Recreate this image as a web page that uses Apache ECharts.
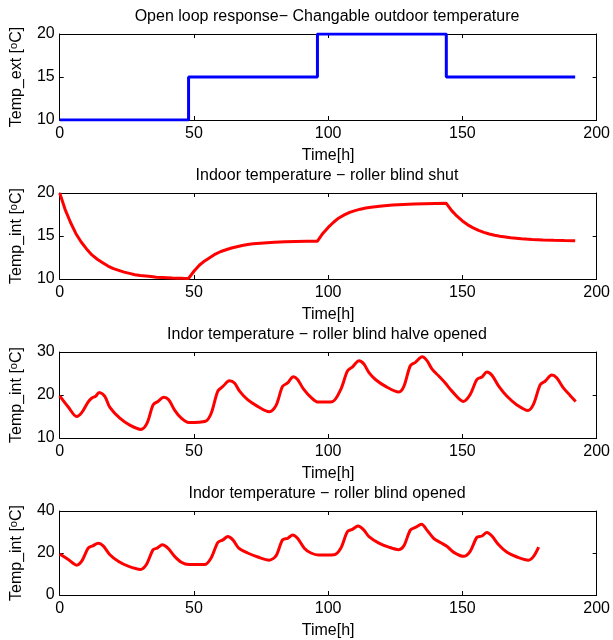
<!DOCTYPE html>
<html>
<head>
<meta charset="utf-8">
<script src="https://cdn.jsdelivr.net/npm/echarts@6/dist/echarts.min.js"></script>
<style>
  html, body { margin: 0; padding: 0; background: #fff; }
  #chart { width: 613px; height: 640px; }
</style>
</head>
<body>
<div id="chart"></div>
<script>
// outdoor temperature steps [h, degC]
const extTime = [0, 48, 96, 144, 192]
const extTemp = [10, 15, 20, 15, 15]

// roller blind shut
const shutTime = [0, 2, 4, 6, 8, 10, 12, 14, 16, 18, 20, 22, 24, 26, 28, 30, 32, 34, 36, 38, 40, 42, 44, 46, 48,
  50, 52, 54, 56, 58, 60, 62, 64, 66, 68, 70, 72, 76, 80, 84, 88, 92, 96,
  98, 100, 102, 104, 106, 108, 110, 112, 114, 116, 120, 124, 128, 132, 136, 140, 144,
  146, 148, 150, 152, 154, 156, 158, 160, 162, 164, 168, 172, 176, 180, 184, 188, 192]
const shutTemp = [20, 18.1, 16.6, 15.3, 14.3, 13.5, 12.8, 12.3, 11.9, 11.5, 11.2, 11.0, 10.8, 10.65, 10.5, 10.4, 10.35, 10.3, 10.2, 10.18, 10.15, 10.12, 10.1, 10.08, 10.07,
  10.9, 11.6, 12.1, 12.5, 12.9, 13.2, 13.4, 13.6, 13.75, 13.9, 14.0, 14.1, 14.2, 14.28, 14.32, 14.35, 14.38, 14.4,
  15.3, 16.0, 16.6, 17.1, 17.45, 17.75, 17.95, 18.12, 18.25, 18.35, 18.5, 18.6, 18.67, 18.72, 18.76, 18.78, 18.8,
  17.95, 17.3, 16.75, 16.3, 15.95, 15.65, 15.42, 15.23, 15.08, 14.97, 14.8, 14.68, 14.6, 14.54, 14.5, 14.47, 14.45]

// roller blind half opened
const halfTime = [0, 3.2, 6.3, 8.2, 10.5, 12, 13.4, 14.7, 16.8, 18.7, 22.4, 26.1, 30.2, 32.5, 34.8, 36.6, 38.7, 40.6, 42.8, 45.3, 48.1,
  54.3, 56.4, 58.9, 60.8, 63.2, 65.1, 67, 70, 73.1, 78.1, 80.6, 83, 84.9, 87, 88.6, 90.7, 93.6, 96.3,
  101.5, 104.7, 107.2, 109, 111.5, 113.3, 115.2, 117.6, 121.4, 126.3, 128.2, 130.6, 132.5, 135, 136.8, 138.7, 141.2, 143.6, 146.1, 150.4,
  152.9, 155.4, 157.3, 159.1, 161, 163.5, 166.6, 170.3, 174.4, 176.5, 179, 180.8, 183.3, 185.1, 187.6, 190.1, 192.2]
const halfTemp = [19.8, 17.2, 15.0, 15.9, 18.3, 19.3, 19.7, 20.6, 19.7, 17.1, 14.6, 13.0, 12.0, 13.4, 17.7, 18.5, 19.45, 18.9, 16.5, 14.6, 13.6,
  13.9, 15.7, 20.9, 22.0, 23.3, 22.8, 20.9, 18.9, 17.6, 16.1, 17.6, 22.0, 22.8, 24.25, 23.6, 21.5, 19.45, 18.35,
  18.45, 21.3, 25.6, 26.5, 27.95, 27.2, 25.2, 23.6, 22.0, 20.7, 22.0, 26.8, 27.6, 28.9, 28.0, 26.0, 24.4, 22.8, 20.9, 18.5,
  20.1, 23.6, 24.2, 25.35, 24.6, 22.05, 19.7, 17.7, 16.4, 17.9, 22.4, 23.2, 24.65, 24.0, 21.65, 19.9, 18.5]

// roller blind opened
const openTime = [0, 3.2, 6.3, 8.2, 10.6, 12.3, 14.4, 16.2, 18.7, 21.8, 25.5, 30.1, 32.3, 34.8, 36.3, 38.2, 40.3, 42.8, 45.3, 48.1,
  54, 56.4, 58.9, 60.8, 62.6, 64.5, 66.7, 70, 73.8, 78.1, 80.6, 83, 84.9, 86.8, 88.6, 91.1, 93.6, 96.4,
  102.2, 104.7, 107.2, 109, 111.1, 113.3, 115.2, 118.9, 122.6, 126.3, 128.2, 130.6, 132.5, 134.8, 136.8, 139.3, 141.8, 144.3, 146.8, 150.4,
  152.9, 155.4, 157.3, 159.1, 161, 163.5, 166.6, 170.3, 174.6, 176.5, 178.4]
const openTemp = [19.5, 16.9, 14.2, 16.1, 22.3, 23.4, 24.7, 23.4, 19.2, 16.1, 13.75, 12.2, 14.5, 21.6, 22.3, 23.9, 22.3, 18.4, 15.6, 14.5,
  14.5, 17.65, 25.0, 26.25, 27.8, 26.25, 22.3, 20.0, 18.1, 16.6, 18.75, 26.25, 27.0, 28.6, 27.0, 22.3, 20.0, 19.05,
  19.2, 22.3, 30.2, 31.25, 32.8, 30.9, 27.8, 24.7, 22.8, 21.6, 23.4, 30.9, 32.2, 33.75, 30.9, 27.0, 25.0, 23.1, 20.3, 18.4,
  20.8, 27.5, 28.1, 29.8, 28.1, 23.9, 20.3, 18.1, 16.6, 18.4, 22.8]

const titles = [
  'Open loop response\u2212 Changable outdoor temperature',
  'Indoor temperature \u2212 roller blind shut',
  'Indor temperature \u2212 roller blind halve opened',
  'Indor temperature \u2212 roller blind opened'
]
const yNames = ['Temp_ext', 'Temp_int', 'Temp_int', 'Temp_int']
const yRanges = [[10, 20, 5], [10, 20, 5], [10, 30, 10], [0, 40, 20]]
const xTicks = [0, 200, 50]

const font = 'Liberation Sans, Arial, Helvetica, sans-serif'
const fs = 16
const tops = [34, 193, 352, 511]
const plotH = 86

const pairs = (t, v) => t.map((x, i) => [x, v[i]])

const chart = echarts.init(document.getElementById('chart'))

const grid = [], xAxis = [], yAxis = [], title = [], series = []

tops.forEach((top, i) => {
  grid.push({ left: 58, width: 539, top: top, height: plotH, show: false })
  title.push({
    text: titles[i], left: 327, top: top - 25, textAlign: 'center', padding: 0,
    textStyle: { fontFamily: font, fontSize: fs, fontWeight: 'normal', color: '#000' }
  })
  const tickStyle = { show: true, inside: true, length: 4, lineStyle: { color: '#000' } }
  const lineStyle = { show: true, onZero: false, lineStyle: { color: '#000', width: 1 } }
  xAxis.push({
    type: 'value', gridIndex: i, min: xTicks[0], max: xTicks[1], interval: xTicks[2],
    name: 'Time[h]', nameLocation: 'middle', nameGap: 28,
    nameTextStyle: { fontFamily: font, fontSize: fs, color: '#000' },
    axisLine: lineStyle, axisTick: tickStyle, splitLine: { show: false },
    axisLabel: { fontFamily: font, fontSize: fs, color: '#000', margin: 6 }
  })
  xAxis.push({
    type: 'value', gridIndex: i, position: 'top', min: xTicks[0], max: xTicks[1], interval: xTicks[2],
    axisLine: lineStyle, axisTick: tickStyle, splitLine: { show: false }, axisLabel: { show: false }
  })
  const [ymin, ymax, yint] = yRanges[i]
  yAxis.push({
    type: 'value', gridIndex: i, min: ymin, max: ymax, interval: yint,
    name: '{a|' + yNames[i] + ' [}{s|o}{a|C]}', nameLocation: 'middle', nameGap: 31,
    nameTextStyle: {
      fontFamily: font, fontSize: fs, color: '#000',
      rich: {
        a: { fontFamily: font, fontSize: fs, color: '#000', lineHeight: 18 },
        s: { fontFamily: font, fontSize: 11, color: '#000', lineHeight: 18, verticalAlign: 'top', padding: [0, 0, 7, 0] }
      }
    },
    axisLine: lineStyle, axisTick: tickStyle, splitLine: { show: false },
    axisLabel: { fontFamily: font, fontSize: fs, color: '#000', margin: 5 }
  })
  yAxis.push({
    type: 'value', gridIndex: i, position: 'right', min: ymin, max: ymax, interval: yint,
    axisLine: lineStyle, axisTick: tickStyle, splitLine: { show: false }, axisLabel: { show: false }
  })
})

series.push({
  type: 'line', xAxisIndex: 0, yAxisIndex: 0, data: pairs(extTime, extTemp), step: 'end',
  showSymbol: false, lineStyle: { color: '#0000ff', width: 3 }, silent: true
})
series.push({
  type: 'line', xAxisIndex: 2, yAxisIndex: 2, data: pairs(shutTime, shutTemp),
  showSymbol: false, lineStyle: { color: '#ff0000', width: 3 }, silent: true
})
series.push({
  type: 'line', xAxisIndex: 4, yAxisIndex: 4, data: pairs(halfTime, halfTemp), smooth: 0.3,
  showSymbol: false, lineStyle: { color: '#ff0000', width: 3 }, silent: true
})
series.push({
  type: 'line', xAxisIndex: 6, yAxisIndex: 6, data: pairs(openTime, openTemp), smooth: 0.3,
  showSymbol: false, lineStyle: { color: '#ff0000', width: 3 }, silent: true
})

chart.setOption({ animation: false, title, grid, xAxis, yAxis, series })
</script>
</body>
</html>
